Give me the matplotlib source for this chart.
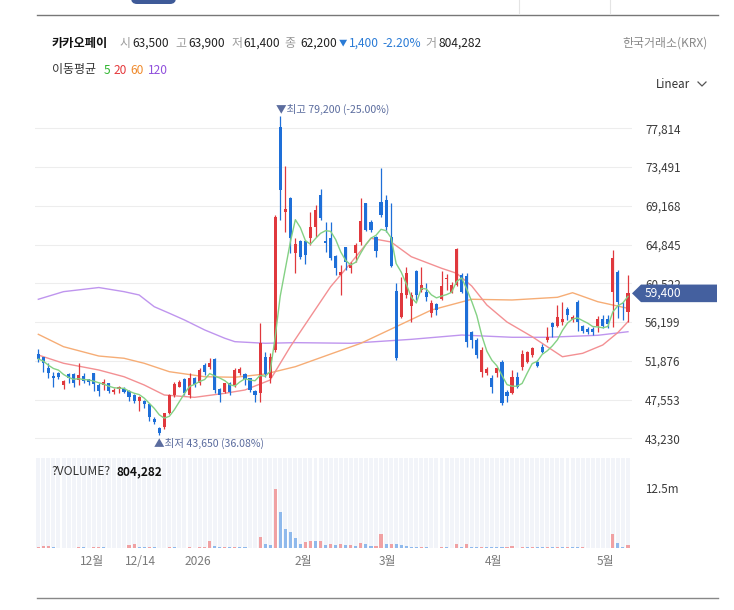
import matplotlib
matplotlib.use('Agg')
import matplotlib.pyplot as plt
import numpy as np
import pandas as pd
from matplotlib.patches import Polygon, FancyBboxPatch
from matplotlib.lines import Line2D
from matplotlib.transforms import IdentityTransform

plt.rcParams['font.family'] = ['Noto Sans CJK KR', 'DejaVu Sans']

# ---------------- data ----------------
opens = [52600, 52260, 51110, 50220, 50480, 49180, 50370, 50370, 49730, 50220,
         49810, 50480, 49180, 49180, 49360, 48430, 48690, 48730, 48510, 48060,
         47430, 47390, 47060, 45420, 44420, 44530, 46020, 48060, 48990, 49850,
         48060, 49920, 49360, 51410, 51150, 52040, 48690, 48430, 49440, 49180,
         50480, 50400, 49920, 48510, 48250, 52300, 49920, 53080, 77990, 68510,
         70070, 63870, 65240, 65240, 65540, 66840, 70370, 65240, 65540, 63570,
         61450, 64540, 62260, 63870, 65160, 69450, 67390, 65720, 69620, 69810,
         65650, 59660, 56800, 59220, 57990, 61890, 59770, 59590, 57170, 58210,
         58730, 61010, 59480, 60330, 61450, 61340, 55120, 54200, 50660, 50550,
         49920, 50470, 51780, 48430, 48250, 50030, 51220, 51780, 52520, 51700,
         53380, 54200, 56060, 55760, 56240, 57620, 56430, 58470, 55760, 55390,
         55390, 55760, 56500, 56500, 59590, 61820, 58360, 57360]
highs = [53190, 52340, 51590, 50660, 50660, 49730, 50480, 50480, 51590, 50480,
         49850, 50550, 49360, 49850, 49440, 48800, 49060, 48920, 48620, 48130,
         47950, 47500, 47130, 45570, 44530, 46090, 48130, 49470, 49730, 49920,
         50480, 50110, 51040, 51590, 52150, 52150, 48800, 49440, 49550, 51110,
         51220, 50550, 49990, 48620, 56060, 52900, 52710, 68100, 79200, 73600,
         70180, 65540, 65350, 65350, 68510, 69260, 71010, 67390, 67390, 63680,
         62560, 64600, 62930, 64980, 70000, 69510, 67580, 65800, 73350, 70370,
         69440, 60520, 61260, 62380, 59590, 62000, 62380, 60520, 58660, 58360,
         61890, 61520, 60700, 64420, 61630, 61630, 55240, 54380, 53450, 51220,
         50290, 51220, 51960, 48620, 50850, 50660, 53080, 52970, 53450, 51960,
         53750, 55610, 56240, 58100, 58470, 57910, 56980, 58660, 55870, 55610,
         55680, 56870, 56980, 56980, 64240, 62000, 58470, 61450]
lows = [51780, 50660, 49920, 48990, 49850, 48730, 49440, 48990, 49180, 49360,
        49180, 48510, 47990, 48620, 48250, 48130, 48250, 48250, 47390, 47130,
        46310, 46570, 45160, 44790, 43650, 44270, 45940, 47870, 48920, 48060,
        47690, 48990, 49180, 50290, 50960, 48250, 47320, 48250, 48060, 48990,
        50290, 49180, 48430, 47320, 47310, 50100, 49370, 52900, 67580, 66280,
        63870, 61640, 63230, 62640, 64800, 65720, 67580, 64050, 63120, 61450,
        59220, 62000, 61640, 62930, 64800, 66360, 66280, 63490, 67950, 66280,
        62380, 51960, 56700, 58840, 56240, 58660, 59590, 58580, 56720, 56980,
        58660, 59770, 59400, 60220, 59400, 53450, 53270, 52150, 50100, 50290,
        48240, 50100, 46900, 47320, 48170, 48800, 50850, 51660, 52340, 51220,
        52710, 54010, 54490, 55610, 55870, 56430, 56240, 55240, 55010, 54830,
        54750, 55130, 55500, 55500, 55680, 56610, 56430, 56240]
closes = [52080, 51590, 50480, 49920, 50110, 49660, 49990, 49360, 50290, 49620,
          49470, 49250, 48510, 49470, 48510, 48620, 48990, 48430, 47870, 47390,
          47870, 47020, 45570, 45010, 43780, 46020, 48060, 49250, 49550, 48250,
          49990, 49180, 50850, 50660, 51590, 48620, 48060, 49360, 48430, 50850,
          50920, 49810, 48620, 48060, 53830, 50450, 52330, 67950, 70930, 68810,
          65540, 64870, 63490, 63680, 66840, 68700, 67770, 64980, 63310, 62260,
          61820, 62930, 62560, 64800, 67470, 66470, 66470, 64160, 68140, 66750,
          62450, 52150, 59400, 61630, 59220, 59220, 60330, 59030, 58360, 57540,
          60220, 61150, 60330, 64350, 59590, 54010, 54200, 52520, 53080, 50920,
          48990, 51030, 47200, 47950, 50030, 48990, 52600, 52890, 53340, 51290,
          52890, 54570, 55610, 56720, 56540, 56980, 56800, 56240, 55240, 55130,
          55090, 56580, 55760, 55940, 63310, 58470, 58210, 59400]
volumes_m = [0.35, 0.4, 0.5, 0.3, 0.15, 0.14, 0.15, 0.14, 0.2, 0.19,
             0.15, 0.2, 0.3, 0.29, 0.15, 0.14, 0.15, 0.14, 0.7, 0.9,
             0.3, 0.2, 0.21, 0.2, 0.15, 0.14, 0.3, 0.2, 0.15, 0.14,
             0.2, 0.15, 0.3, 0.35, 1.5, 0.5, 0.35, 0.36, 0.35, 0.36,
             0.3, 0.29, 0.15, 0.14, 2.3, 0.8, 0.75, 12.4, 7.5, 4.0,
             3.3, 2.1, 0.83, 1.25, 1.45, 1.42, 1.45, 0.6, 0.9, 0.6,
             0.85, 0.6, 0.7, 0.55, 1.1, 0.8, 0.55, 0.56, 2.9, 0.8,
             1.0, 0.95, 0.7, 0.55, 0.35, 0.3, 0.31, 0.2, 0.15, 0.14,
             0.3, 0.29, 0.15, 1.0, 0.35, 0.9, 0.35, 0.3, 0.31, 0.3,
             0.29, 0.2, 0.19, 0.3, 0.55, 0.15, 0.3, 0.2, 0.21, 0.2,
             0.19, 0.2, 0.19, 0.35, 0.34, 0.35, 0.2, 0.19, 0.3, 0.15,
             0.14, 0.15, 0.14, 0.13, 2.9, 1.1, 0.35, 0.7]

# moving averages (20/60/120 need history that is not shown)
ma20_idx = [0, 5, 12, 17, 21, 25, 31, 37, 41, 46, 50, 54, 58, 62, 66, 70, 74,
            80, 83, 86, 89, 93, 98, 104, 108, 112, 115, 117]
ma20_val = [52520, 51600, 50850, 50100, 49180, 48060, 47800, 48250, 48620, 49730,
            53450, 56800, 60140, 62790, 65540, 65130, 63490, 62200, 61640, 60220,
            58100, 56200, 54560, 52330, 52710, 53640, 55030, 56240]
ma60_idx = [0, 5, 12, 17, 21, 26, 33, 39, 45, 51, 58, 64, 71, 78, 86, 94, 103,
            106, 111, 117]
ma60_val = [54830, 53450, 52410, 52160, 51600, 50660, 50100, 50040, 50400, 51220,
            52630, 53830, 55680, 57540, 58740, 58660, 58960, 59470, 58470, 57730]
ma120_idx = [0, 5, 12, 17, 20, 23, 26, 29, 33, 37, 39, 45, 51, 62, 74, 84, 94,
             101, 111, 117]
ma120_val = [58740, 59590, 60050, 59590, 59220, 57910, 57180, 56430, 55320, 54390,
             54010, 53830, 53900, 53830, 54270, 54750, 54500, 54500, 54720, 55120]

price_ticks = [43230, 47553, 51876, 56199, 60522, 64845, 69168, 73491, 77814]
x_tick_pos = [10.6, 20.2, 31.6, 52.6, 69.3, 90.4, 112.5]
x_tick_labels = ['12월', '12/14', '2026', '2월', '3월', '4월', '5월']
vol_tick = 12.5
vol_tick_label = '12.5m'

stock_name = '카카오페이'
header_labels = ['시', '고', '저', '종']
header_values = ['63,500', '63,900', '61,400', '62,200']
change_text = ['▼', '1,400', '-2.20%']
volume_text = '804,282'

# ---------------- figure ----------------
W, H = 734, 610
fig = plt.figure(figsize=(W / 100, H / 100), dpi=100)
fig.patch.set_facecolor('white')


def fx(x):
    return x / W


def fy(y):
    return 1 - y / H


RED = '#e0383d'
BLUE = '#1e6fd8'
VRED = '#f0a1a3'
VBLUE = '#8fb9ec'

idx = np.arange(len(closes))
o = np.array(opens, float)
c = np.array(closes, float)
hi = np.array(highs, float)
lo = np.array(lows, float)
v = np.array(volumes_m, float)
up = c >= o
colors = np.where(up, RED, BLUE)

ax = fig.add_axes([fx(35), fy(452), (632 - 35) / W, (452 - 95) / H])
axv = fig.add_axes([fx(35), fy(548.3), (632 - 35) / W, 90 / H])
xlim = (-0.66, 117.8)

# price panel
for t in price_ticks:
    ax.axhline(t, color='#ededed', lw=0.8, zorder=0)
ax.vlines(idx, lo, hi, colors=colors, lw=0.9, zorder=3)
body = np.maximum(np.abs(c - o), 70)
ax.bar(idx, body, bottom=np.minimum(o, c), width=0.62, color=colors, zorder=4, linewidth=0)

ma5 = pd.Series(c).rolling(5, min_periods=1).mean()
ax.plot(ma120_idx, ma120_val, color='#bf95ee', lw=1.0, zorder=2)
ax.plot(ma60_idx, ma60_val, color='#f6ad76', lw=1.0, zorder=2)
ax.plot(ma20_idx, ma20_val, color='#f39093', lw=1.0, zorder=2)
ax.plot(idx, ma5, color='#84d184', lw=1.0, zorder=5)

ax.set_xlim(*xlim)
ax.set_ylim(41702, 81528)
ax.set_xticks([])
ax.yaxis.tick_right()
ax.set_yticks(price_ticks, [f'{t:,}' for t in price_ticks])
ax.tick_params(axis='y', length=0, pad=9.5, labelsize=8.4, labelcolor='#3a3a3a')
for s in ax.spines.values():
    s.set_visible(False)

# high / low annotations
ih = int(np.argmax(hi))
il = int(np.argmin(lo))
last = c[-1]
ax.annotate(f'▼최고 {int(hi[ih]):,} ({(last - hi[ih]) / hi[ih] * 100:.2f}%)',
            xy=(ih, hi[ih]), xytext=(-4, 6), textcoords='offset pixels',
            ha='left', va='center', fontsize=7.6, color='#5b6c9e', zorder=6)
ax.annotate(f'▲최저 {int(lo[il]):,} ({(last - lo[il]) / lo[il] * 100:.2f}%)',
            xy=(il, lo[il]), xytext=(-5, -9), textcoords='offset pixels',
            ha='left', va='center', fontsize=7.6, color='#5b6c9e', zorder=6)

# volume panel (bar colour: volume up/down versus the previous day)
vtop = 18.75
axv.bar(idx, [vtop] * len(idx), width=0.79, color='#f2f4f9', linewidth=0, zorder=0)
vup = np.r_[True, v[1:] > v[:-1]]
vcol = np.where(vup, VRED, VBLUE)
axv.bar(idx, v, width=0.62, color=vcol, linewidth=0, zorder=2)
axv.set_xlim(*xlim)
axv.set_ylim(0, vtop)
axv.yaxis.tick_right()
axv.set_yticks([vol_tick], [vol_tick_label])
axv.tick_params(axis='y', length=0, pad=9.5, labelsize=8.4, labelcolor='#3a3a3a')
axv.set_xticks(x_tick_pos, x_tick_labels)
axv.tick_params(axis='x', length=0, pad=4.5, labelsize=8.6, labelcolor='#7a7a7a')
for s in axv.spines.values():
    s.set_visible(False)
fig.text(fx(51.5), fy(471.5), '?VOLUME?', ha='left', va='center', fontsize=8.6, color='#333')
fig.text(fx(116.5), fy(471.5), volume_text, ha='left', va='center', fontsize=8.6,
         color='#111', fontweight='bold')

# price tag for last close
fig.canvas.draw()
yd = ax.transData.transform((0, last))[1]
tag = Polygon([(632, yd), (641, yd + 8.8), (717, yd + 8.8), (717, yd - 8.8), (641, yd - 8.8)],
              closed=True, facecolor='#44609f', edgecolor='none', transform=IdentityTransform(),
              zorder=10)
fig.add_artist(tag)
fig.text(645 / W, yd / H, f'{int(last):,}', ha='left', va='center', fontsize=8.6,
         color='white', zorder=11)

# header
GRAY = '#9a9a9a'
DARK = '#222222'
HB = '#2a7bd6'
fig.text(fx(51.6), fy(43.3), stock_name, ha='left', va='center', fontsize=8.8,
         fontweight='bold', color='#111')
lab_x = [119.5, 175.5, 231.5, 284.5]
val_x = [132.5, 188.5, 243.5, 300.5]
for lx, vx, lb, vv in zip(lab_x, val_x, header_labels, header_values):
    fig.text(fx(lx), fy(43.3), lb, ha='left', va='center', fontsize=8.6, color=GRAY)
    fig.text(fx(vx), fy(43.3), vv, ha='left', va='center', fontsize=8.6, color=DARK)
for cx, t, fs in zip([338.5, 349, 382.5], change_text, [6.0, 8.6, 8.6]):
    fig.text(fx(cx), fy(43.3), t, ha='left', va='center', fontsize=fs, color=HB)
fig.text(fx(425.5), fy(43.3), '거', ha='left', va='center', fontsize=8.6, color=GRAY)
fig.text(fx(438.5), fy(43.3), volume_text, ha='left', va='center', fontsize=8.6, color=DARK)
fig.text(fx(708), fy(43.3), '한국거래소(KRX)', ha='right', va='center', fontsize=8.6, color='#8a8a8a')

fig.text(fx(51.6), fy(70), '이동평균', ha='left', va='center', fontsize=8.6, color='#333')
for mx, t, col in zip([103.5, 113.5, 130.5, 147.5], ['5', '20', '60', '120'],
                      ['#2fb52f', '#e5393c', '#ef8a2c', '#9050dc']):
    fig.text(fx(mx), fy(70), t, ha='left', va='center', fontsize=8.6, color=col)

fig.text(fx(690), fy(84), 'Linear', ha='right', va='center', fontsize=8.4, color='#333')
fig.add_artist(Line2D([fx(698), fx(702), fx(706)], [fy(82), fy(86), fy(82)],
                      transform=fig.transFigure, color='#555', lw=0.9))

# page chrome
fig.add_artist(Line2D([fx(37), fx(718)], [fy(15), fy(15)], transform=fig.transFigure,
                      color='#777777', lw=1.0))
fig.add_artist(Line2D([fx(37), fx(718)], [fy(598.3), fy(598.3)], transform=fig.transFigure,
                      color='#888888', lw=1.0))
for bx in [519, 610]:
    fig.add_artist(Line2D([fx(bx), fx(bx)], [fy(0), fy(14)], transform=fig.transFigure,
                          color='#e4e4e4', lw=0.8))
fig.add_artist(FancyBboxPatch((131, H - 4), 45, 14, boxstyle='round,pad=0,rounding_size=6',
                              facecolor='#3e5a98', edgecolor='none',
                              transform=IdentityTransform()))

fig.savefig('out.png', dpi=100)
